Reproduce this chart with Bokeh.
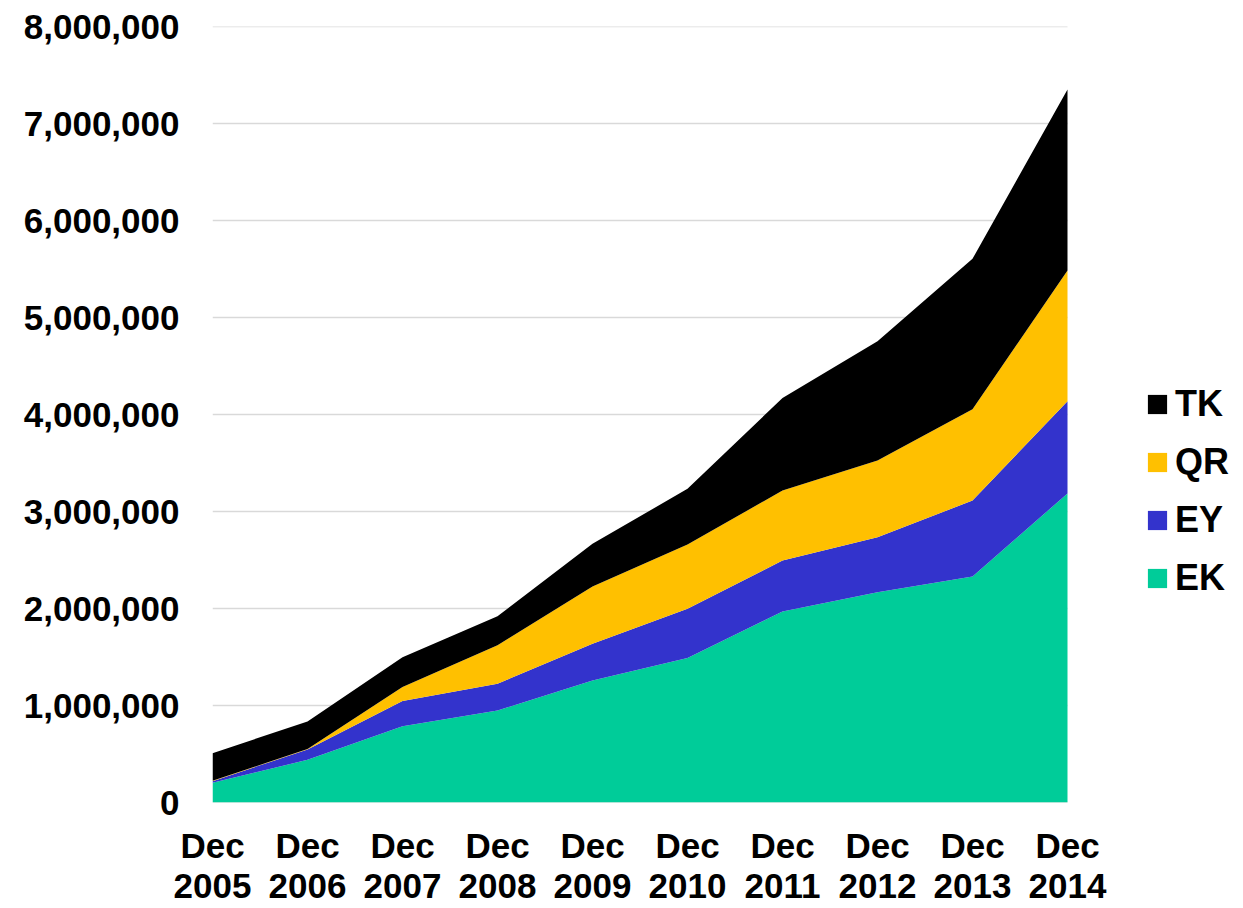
from bokeh.plotting import figure
from bokeh.models import ColumnDataSource, FixedTicker, NumeralTickFormatter, Legend, LegendItem, Range1d
from bokeh.embed import file_html
from bokeh.resources import INLINE

# Periods on the x axis
periods = ["Dec\n2005", "Dec\n2006", "Dec\n2007", "Dec\n2008", "Dec\n2009",
           "Dec\n2010", "Dec\n2011", "Dec\n2012", "Dec\n2013", "Dec\n2014"]

# Series values (stacked bottom to top: EK, EY, QR, TK)
ek = [203000, 440000, 787000, 948000, 1258000, 1490000, 1969000, 2168000, 2330000, 3186000]
ey = [17000, 106000, 260000, 276000, 378000, 507000, 526000, 567000, 783000, 951000]
qr = [3000, 6000, 143000, 396000, 591000, 663000, 721000, 791000, 942000, 1348000]
tk = [285000, 283000, 308000, 300000, 440000, 574000, 954000, 1230000, 1550000, 1865000]

# Value axis ticks
y_ticks = [0, 1000000, 2000000, 3000000, 4000000, 5000000, 6000000, 7000000, 8000000]

series_names = ["EK", "EY", "QR", "TK"]
colors = ["#00CC99", "#3333CC", "#FFC000", "#000000"]

x = list(range(len(periods)))
source = ColumnDataSource(dict(x=x, EK=ek, EY=ey, QR=qr, TK=tk))

FONT = "Liberation Sans"
W, H = 1243, 908
LEFT = 212
AREA_W = 855  # pixel width spanned by the ten periods

# The frame runs to the right edge so the legend can sit beside the areas;
# the x range is widened accordingly.
x_end = (len(periods) - 1) * (W - LEFT) / AREA_W

p = figure(width=W, height=H, output_backend="svg", toolbar_location=None,
           x_range=Range1d(0, x_end), y_range=Range1d(0, y_ticks[-1]),
           min_border_left=LEFT, min_border_right=0, min_border_top=26,
           min_border_bottom=0)
p.outline_line_color = None
p.background_fill_color = "white"
p.border_fill_color = "white"

# Horizontal grid lines spanning only the period range
p.segment(x0=[0] * len(y_ticks), x1=[len(periods) - 1] * len(y_ticks),
          y0=y_ticks, y1=y_ticks, line_color="#D9D9D9", line_width=1.5,
          level="underlay")

renderers = p.varea_stack(stackers=series_names, x="x", color=colors, source=source)

# Axes
p.xaxis.ticker = FixedTicker(ticks=x)
p.xaxis.major_label_overrides = {i: lab for i, lab in zip(x, periods)}
p.yaxis.ticker = FixedTicker(ticks=y_ticks)
p.yaxis.formatter = NumeralTickFormatter(format="0,0")
for ax in (p.xaxis[0], p.yaxis[0]):
    ax.axis_line_color = None
    ax.major_tick_line_color = None
    ax.minor_tick_line_color = None
    ax.major_label_text_font = FONT
    ax.major_label_text_font_style = "bold"
    ax.major_label_text_font_size = "35px"
    ax.major_label_text_color = "black"
p.yaxis.major_label_standoff = 27
p.xaxis.major_label_standoff = 17
p.xaxis.major_label_text_line_height = 1.05

p.xgrid.grid_line_color = None
p.ygrid.grid_line_color = None

# Legend, top entry is the top layer
items = [LegendItem(label=name, renderers=[r]) for name, r in zip(series_names, renderers)][::-1]
legend = Legend(items=items, location=(933, 203), orientation="vertical",
                label_text_font=FONT, label_text_font_style="bold",
                label_text_font_size="36px", label_text_color="black",
                glyph_width=24, glyph_height=24, label_standoff=6, spacing=16,
                padding=0, margin=0, border_line_color=None,
                background_fill_alpha=0)
p.add_layout(legend)

open("out.html", "w").write(file_html(p, INLINE))
